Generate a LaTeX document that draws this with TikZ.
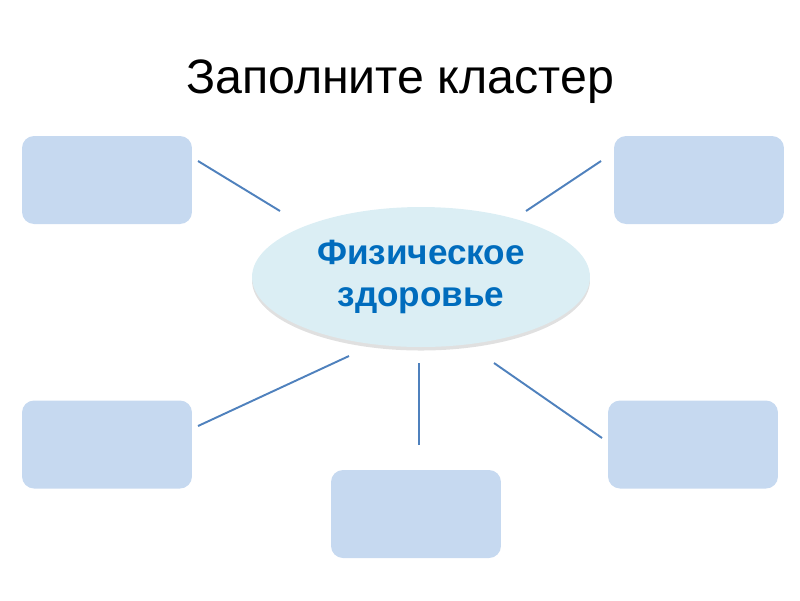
\documentclass[tikz,border=0pt]{standalone}
\usepackage{fontspec}
\setmainfont{Liberation Sans}
\usetikzlibrary{shapes.geometric, shadows}
\definecolor{leafcol}{RGB}{198,217,240}
\definecolor{corecol}{RGB}{219,238,244}
\definecolor{linkcol}{RGB}{79,129,189}
\definecolor{coretxt}{RGB}{0,108,189}

\begin{document}
\begin{tikzpicture}[
  x=0.02cm, y=-0.02cm,
  leaf/.style  = {fill=leafcol, rounded corners=0.24cm,
                  minimum width=3.4cm, minimum height=1.76cm, inner sep=0pt},  % empty cluster box
  core/.style  = {ellipse, fill=corecol, align=center, inner sep=0pt,
                  minimum width=6.76cm, minimum height=2.8cm,
                  font=\fontsize{20}{24}\selectfont\bfseries, text=coretxt,
                  drop shadow={shadow xshift=0pt, shadow yshift=-2pt,
                               fill=black!40, opacity=0.3}},
  link/.style  = {draw=linkcol, line width=1.1pt},
  hd/.style    = {font=\fontsize{27.5}{33}\selectfont, inner sep=0pt},
]
\useasboundingbox (0,0) rectangle (800,600);

% ---------- title ----------
\node[hd, anchor=base] (title) at (400,93) {Заполните кластер};

% ---------- centre + empty boxes ----------
\node[core] (core) at (421,277) {Физическое\\здоровье};
\node[leaf] (leafTL) at (107,180) {};
\node[leaf] (leafTR) at (699,180) {};
\node[leaf] (leafBL) at (107,444.5) {};
\node[leaf] (leafB)  at (416,514) {};
\node[leaf] (leafBR) at (693,444.5) {};

% ---------- free line ends (gaps on both sides) ----------
\coordinate (tlA) at (198,161);  \coordinate (tlB) at (280,211);
\coordinate (trA) at (601,161);  \coordinate (trB) at (526,211);
\coordinate (blA) at (198,426);  \coordinate (blB) at (349,356);
\coordinate (bA)  at (419,445);  \coordinate (bB)  at (419,363);
\coordinate (brA) at (602,438);  \coordinate (brB) at (494,363);

\draw[link] (tlA) -- (tlB);
\draw[link] (trA) -- (trB);
\draw[link] (blA) -- (blB);
\draw[link] (bA)  -- (bB);
\draw[link] (brA) -- (brB);

\end{tikzpicture}
\end{document}
